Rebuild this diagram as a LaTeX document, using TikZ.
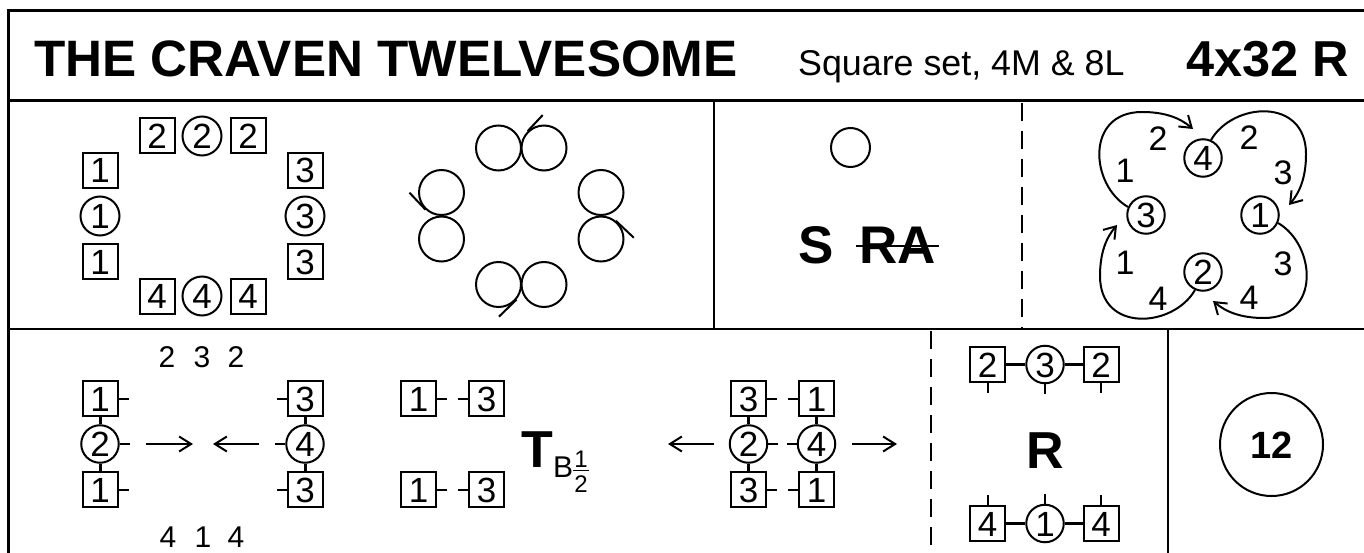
\documentclass[tikz,border=0pt]{standalone}
\usepackage{fontspec}
\setmainfont{Liberation Sans}
\usetikzlibrary{arrows.meta}
\newcommand\fsz[1]{\fontsize{#1}{#1}\selectfont}
\tikzset{
  digit/.style={font=\fsz{35}, text height=25pt, text depth=0pt, inner sep=0pt},
  num/.style={font=\fsz{34}, text height=24.3pt, text depth=0pt, inner sep=0pt},
  lab/.style={font=\fsz{30}, text height=21.5pt, text depth=0pt, inner sep=0pt},
  sq/.style={digit, draw, line width=2pt, minimum width=35pt, minimum height=35pt},
  ci/.style={digit, draw, circle, line width=2pt, minimum size=39pt},
  cis/.style={digit, draw, circle, line width=2pt, minimum size=37.5pt},
  pc/.style={draw, circle, line width=2pt, minimum size=45pt, inner sep=0pt},
  conn/.style={line width=3pt},
  tick/.style={line width=2pt},
  arr/.style={line width=2pt, -{Straight Barb[length=12pt,width=15pt]}},
  loop/.style={line width=2pt, -{Straight Barb[length=11pt,width=15pt]}},
  bigb/.style={font=\bfseries\fsz{53}, inner sep=0pt},
}
\begin{document}
\begin{tikzpicture}[x=1pt,y=-1pt]
\useasboundingbox (0,0) rectangle (1364,553);
\clip (0,0) rectangle (1364,553);
% frame
\draw[line width=2.2pt] (8.5,600) -- (8.5,10.5) -- (1400,10.5);
\draw[line width=3pt] (8.5,101) -- (1400,101);
\draw[line width=2pt] (8.5,329) -- (1400,329);
\draw[line width=2pt] (714,101) -- (714,329);
\draw[line width=2pt, dash pattern=on 18pt off 10pt] (1022,103) -- (1022,329);
\draw[line width=2pt, dash pattern=on 18pt off 10pt] (931,331) -- (931,553);
\draw[line width=2pt] (1168,329) -- (1168,553);
% title
\node[anchor=base west, inner sep=0pt, font=\bfseries\fsz{51.2}] (title) at (34,77) {THE CRAVEN TWELVESOME};
\node[anchor=base west, inner sep=0pt, font=\fsz{35.8}] (settype) at (798,76) {Square set, 4M \& 8L};
\node[anchor=base west, inner sep=0pt, font=\bfseries\fsz{50.5}] (bars) at (1186,77) {4x32 R};
% panel 1: set
\node[sq] (t1) at (157,136) {2};
\node[ci] (t2) at (202,136) {2};
\node[sq] (t3) at (248,136) {2};
\node[sq] (l1) at (100,170.5) {1};
\node[ci] (l2) at (100,216) {1};
\node[sq] (l3) at (100,261.5) {1};
\node[sq] (r1) at (305,170.5) {3};
\node[ci] (r2) at (305,216) {3};
\node[sq] (r3) at (305,261.5) {3};
\node[sq] (b1) at (157,296) {4};
\node[ci] (b2) at (202,296) {4};
\node[sq] (b3) at (248,296) {4};
% panel 2: circles
\node[pc] (p1) at (498.5,148) {};
\node[pc] (p2) at (544,148) {};
\node[pc] (p3) at (441.5,192.5) {};
\node[pc] (p4) at (441.5,239) {};
\node[pc] (p5) at (601,192.5) {};
\node[pc] (p6) at (601,239) {};
\node[pc] (p7) at (498.5,284.5) {};
\node[pc] (p8) at (544,284.5) {};
\draw[tick] (p2.134) -- ++(15,-16);
\draw[tick] (p3.227) -- ++(-16,-17);
\draw[tick] (p6.51) -- ++(18,17);
\draw[tick] (p7.-40) -- ++(-17.5,17);
% panel 3
\node[draw, circle, line width=2pt, minimum size=39pt, inner sep=0pt] (dc) at (850.5,147.5) {};
\node[bigb, anchor=base] (s) at (816.5,263) {S};
\node[bigb, anchor=base] (ra) at (897.5,263) {RA};
\draw[line width=2.7pt] (856,246) -- (939,246);
% panel 4
\node[cis] (c4) at (1203,158) {4};
\node[cis] (c3) at (1146,215) {3};
\node[cis] (c1) at (1260,215) {1};
\node[cis] (c2) at (1203,272) {2};
\node[num] (n1) at (1158,138) {2};
\node[num] (n2) at (1249,137) {2};
\node[num] (n3) at (1125,170) {1};
\node[num] (n4) at (1283,172) {3};
\node[num] (n5) at (1125,262) {1};
\node[num] (n6) at (1283,263) {3};
\node[num] (n7) at (1158,298) {4};
\node[num] (n8) at (1249,297) {4};
\coordinate (e1) at (1193,129);
\coordinate (e2) at (1289,205);
\coordinate (e3) at (1213,301);
\coordinate (e4) at (1117,225);
\draw[loop] (c3.156) .. controls (1090,185) and (1085,112) .. (1142,112)
  .. controls (1165,112) and (1180,118) .. (e1);
\draw[loop] (c4.66) .. controls (1233,102) and (1306,97) .. (1306,154)
  .. controls (1306,177) and (1300,192) .. (e2);
\draw[loop] (c1.-24) .. controls (1316,245) and (1321,318) .. (1264,318)
  .. controls (1241,318) and (1226,312) .. (e3);
\draw[loop] (c2.-114) .. controls (1173,328) and (1100,333) .. (1100,276)
  .. controls (1100,253) and (1106,238) .. (e4);
% row 3 panel 1
\node[lab] (k1) at (167,356.5) {2};
\node[lab] (k2) at (202,356.5) {3};
\node[lab] (k3) at (236,356.5) {2};
\node[lab] (k4) at (168,537) {4};
\node[lab] (k5) at (203,537) {1};
\node[lab] (k6) at (236,537) {4};
\node[sq] (a1) at (100,398.5) {1};
\node[cis] (a2) at (100,444) {2};
\node[sq] (a3) at (100,489.5) {1};
\node[sq] (d1) at (305,398.5) {3};
\node[cis] (d2) at (305,444) {4};
\node[sq] (d3) at (305,489.5) {3};
\draw[conn] (a1) -- (a2);
\draw[conn] (a2) -- (a3);
\draw[conn] (d1) -- (d2);
\draw[conn] (d2) -- (d3);
\foreach \n in {a1,a2,a3} \draw[tick] (\n.east) -- ++(10,0);
\foreach \n in {d1,d2,d3} \draw[tick] (\n.west) -- ++(-10,0);
\coordinate (ar1s) at (146,444);
\coordinate (ar1e) at (193,444);
\coordinate (ar2s) at (259,444);
\coordinate (ar2e) at (213,444);
\draw[arr] (ar1s) -- (ar1e);
\draw[arr] (ar2s) -- (ar2e);
% middle
\node[sq] (m1) at (418.5,398.5) {1};
\node[sq] (m2) at (486.5,398.5) {3};
\node[sq] (m3) at (418.5,489.5) {1};
\node[sq] (m4) at (486.5,489.5) {3};
\foreach \n in {m1,m3} \draw[tick] (\n.east) -- ++(10,0);
\foreach \n in {m2,m4} \draw[tick] (\n.west) -- ++(-10,0);
\node[anchor=base, inner sep=0pt, font=\bfseries\fsz{52}] (tt) at (537,467) {T};
\node[anchor=base west, inner sep=0pt, font=\fsz{30}] (bb) at (553,477) {B};
\node[anchor=base, inner sep=0pt, font=\fsz{24}] (fn) at (581,467) {1};
\node[anchor=base, inner sep=0pt, font=\fsz{24}] (fd) at (581,492) {2};
\draw[line width=1.5pt] (573,470.5) -- (589,470.5);
% right group
\node[sq] (g1) at (748.5,398.5) {3};
\node[cis] (g2) at (748.5,444) {2};
\node[sq] (g3) at (748.5,489.5) {3};
\node[sq] (h1) at (816.5,398.5) {1};
\node[cis] (h2) at (816.5,444) {4};
\node[sq] (h3) at (816.5,489.5) {1};
\draw[conn] (g1) -- (g2);
\draw[conn] (g2) -- (g3);
\draw[conn] (h1) -- (h2);
\draw[conn] (h2) -- (h3);
\foreach \n in {g1,g2,g3} \draw[tick] (\n.east) -- ++(10,0);
\foreach \n in {h1,h2,h3} \draw[tick] (\n.west) -- ++(-10,0);
\coordinate (ar3s) at (714,444);
\coordinate (ar3e) at (668,444);
\coordinate (ar4s) at (852,444);
\coordinate (ar4e) at (897,444);
\draw[arr] (ar3s) -- (ar3e);
\draw[arr] (ar4s) -- (ar4e);
% R panel
\node[sq] (q1) at (987.5,364.5) {2};
\node[cis] (q2) at (1045,364.5) {3};
\node[sq] (q3) at (1101,364.5) {2};
\node[sq] (u1) at (987.5,523.5) {4};
\node[cis] (u2) at (1045,523.5) {1};
\node[sq] (u3) at (1101,523.5) {4};
\draw[conn] (q1) -- (q2);
\draw[conn] (q2) -- (q3);
\draw[conn] (u1) -- (u2);
\draw[conn] (u2) -- (u3);
\foreach \n in {q1,q2,q3} \draw[tick] (\n.south) -- ++(0,10);
\foreach \n in {u1,u2,u3} \draw[tick] (\n.north) -- ++(0,-10);
\node[anchor=base, inner sep=0pt, font=\bfseries\fsz{52}] (rr) at (1045,468) {R};
% 12
\node[draw, circle, line width=2pt, minimum size=103pt, inner sep=0pt,
  font=\bfseries\fsz{38}, text height=27pt, text depth=0pt] (twelve) at (1271.5,444.5) {12};
\end{tikzpicture}
\end{document}
